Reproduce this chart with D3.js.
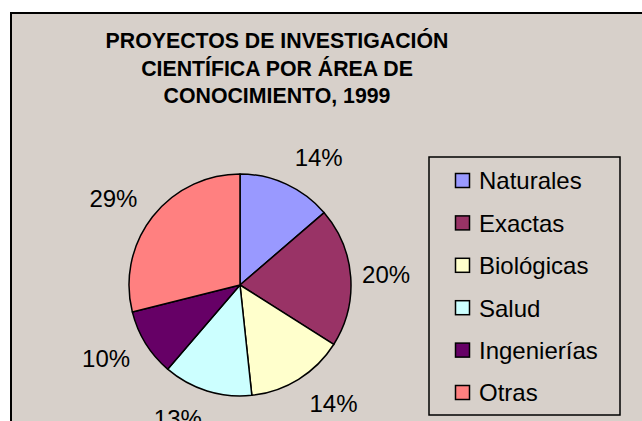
<!DOCTYPE html>
<html><head><meta charset="utf-8">
<script src="https://cdn.jsdelivr.net/npm/d3@7"></script>
<style>html,body{margin:0;padding:0;background:#fff;}svg{display:block;}</style>
</head><body>
<svg id="chart" width="642" height="421"></svg>
<script>
const titleLines = ["PROYECTOS DE INVESTIGACIÓN", "CIENTÍFICA POR ÁREA DE", "CONOCIMIENTO, 1999"];
const categories = ["Naturales", "Exactas", "Biológicas", "Salud", "Ingenierías", "Otras"];
const values = [13.7, 20.3, 14.3, 13.0, 9.8, 28.9];
const colors = ["#9999FF", "#993366", "#FFFFCC", "#CCFFFF", "#660066", "#FF8080"];

const svg = d3.select("#chart");
const font = "Arial, 'Liberation Sans', sans-serif";

// chart area frame
svg.append("rect").attr("x", 11).attr("y", 13).attr("width", 700).attr("height", 500)
  .attr("fill", "#d7d0ca").attr("stroke", "#000").attr("stroke-width", 2);

// title
svg.append("text").attr("x", 277).attr("y", 48).attr("text-anchor", "middle")
  .attr("font-family", font).attr("font-weight", "bold").attr("font-size", 21.3)
  .selectAll("tspan").data(titleLines).join("tspan")
  .attr("x", 277).attr("dy", (d, i) => i === 0 ? 0 : 27.5).text(d => d);

// pie
const cx = 240, cy = 285, r = 111;
const pie = d3.pie().sort(null).value(d => d)(values);
const arc = d3.arc().innerRadius(0).outerRadius(r);
const total = d3.sum(values);
const g = svg.append("g").attr("transform", `translate(${cx},${cy})`);
g.selectAll("path").data(pie).join("path")
  .attr("d", arc).attr("fill", (d, i) => colors[i])
  .attr("stroke", "#000").attr("stroke-width", 1.5).attr("stroke-linejoin", "round");

g.selectAll("text.lbl").data(pie).join("text").attr("class", "lbl")
  .attr("font-family", font).attr("font-size", 24).attr("text-anchor", "middle")
  .attr("dy", "0.35em")
  .attr("x", d => {
    const a = (d.startAngle + d.endAngle) / 2;
    return 145 * Math.sin(a) + 20 * Math.abs(Math.cos(a)) * Math.sign(Math.sin(a));
  })
  .attr("y", d => {
    const a = (d.startAngle + d.endAngle) / 2;
    return -140 * Math.cos(a);
  })
  .text(d => Math.round(d.value / total * 100) + "%");

// legend
const lx = 429, ly = 157, lw = 191, lh = 258;
svg.append("rect").attr("x", lx).attr("y", ly).attr("width", lw).attr("height", lh)
  .attr("fill", "none").attr("stroke", "#000").attr("stroke-width", 1.5);
const rowY = d3.scalePoint().domain(categories).range([181, 393]);
const items = svg.append("g").selectAll("g").data(categories).join("g")
  .attr("transform", d => `translate(0,${rowY(d)})`);
items.append("rect").attr("x", 455.5).attr("y", -7.5).attr("width", 14).attr("height", 14)
  .attr("fill", (d, i) => colors[i]).attr("stroke", "#000").attr("stroke-width", 1.5);
items.append("text").attr("x", 479).attr("dy", "0.35em")
  .attr("font-family", font).attr("font-size", 24).text(d => d);
</script>
</body></html>
